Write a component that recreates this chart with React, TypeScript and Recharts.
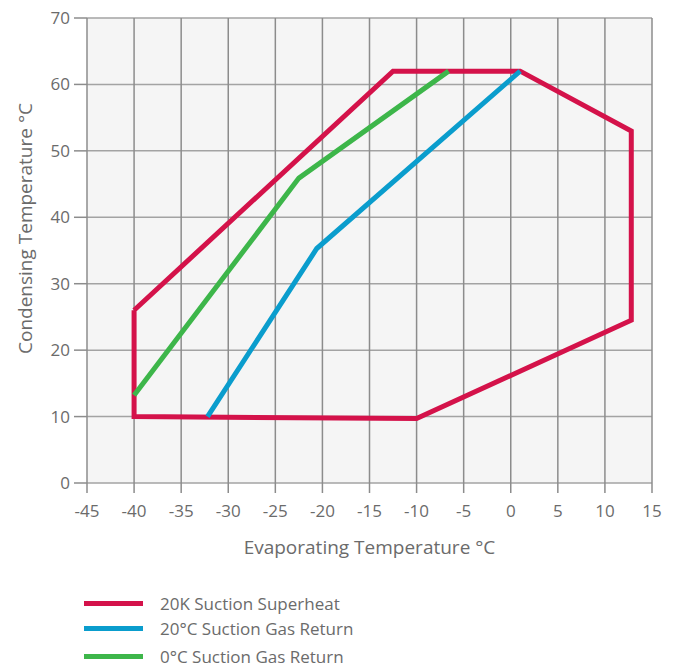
import React from 'react';
import { LineChart, Line, XAxis, YAxis, CartesianGrid, Label } from 'recharts';

const xTicks = [-45, -40, -35, -30, -25, -20, -15, -10, -5, 0, 5, 10, 15];
const yTicks = [0, 10, 20, 30, 40, 50, 60, 70];

const superheatX = [-40, -12.5, 1, 12.8, 12.8, -10, -40, -40];
const superheatY = [26, 62, 62, 53, 24.5, 9.7, 10, 26];

const gas20X = [-32.2, -20.6, 1];
const gas20Y = [10, 35.3, 62];

const gas0X = [-40, -22.5, -6.6];
const gas0Y = [13.2, 45.9, 62];

const seriesNames = ['20K Suction Superheat', '20°C Suction Gas Return', '0°C Suction Gas Return'];
const seriesColors = ['#d4124a', '#0a9dcd', '#3db64a'];

const zip = (xs: number[], ys: number[]) => xs.map((x, i) => ({ x, y: ys[i] }));

const series = [
  { name: seriesNames[0], color: seriesColors[0], data: zip(superheatX, superheatY) },
  { name: seriesNames[1], color: seriesColors[1], data: zip(gas20X, gas20Y) },
  { name: seriesNames[2], color: seriesColors[2], data: zip(gas0X, gas0Y) },
];

const FONT = '"Open Sans", "Noto Sans", sans-serif';
const TEXT = '#6b6b6b';

const legendTops = [603, 628, 656];

export default function App() {
  return (
    <div style={{ position: 'relative', width: 682, height: 668, fontFamily: FONT }}>
      <style>{'body{margin:0}'}</style>
      <LineChart
        width={682}
        height={588}
        margin={{ top: 18, right: 30, left: 37, bottom: 25 }}
      >
        <CartesianGrid fill="#f5f5f5" stroke="#a3a3a3" vertical={false} strokeWidth={1.5} />
        <CartesianGrid stroke="#8c8c8c" horizontal={false} strokeWidth={1.5} fillOpacity={0} />
        <XAxis
          type="number"
          dataKey="x"
          domain={[-45, 15]}
          ticks={xTicks}
          interval={0}
          allowDataOverflow
          axisLine={false}
          tickLine={{ stroke: '#8c8c8c', strokeWidth: 1.5 }}
          tickSize={10}
          tickMargin={12}
          height={80}
          tick={{ fill: TEXT, fontSize: 17, fontFamily: FONT }}
        >
          <Label
            value="Evaporating Temperature °C"
            position="insideBottom"
            offset={9}
            style={{ fill: TEXT, fontSize: 19, fontFamily: FONT }}
          />
        </XAxis>
        <YAxis
          type="number"
          dataKey="y"
          domain={[0, 70]}
          ticks={yTicks}
          interval={0}
          axisLine={false}
          tickLine={{ stroke: '#8c8c8c', strokeWidth: 1.5 }}
          tickSize={13}
          tickMargin={4}
          width={50}
          tick={{ fill: TEXT, fontSize: 17, fontFamily: FONT }}
        >
          <Label
            value="Condensing Temperature °C"
            position="center"
            angle={-90}
            dx={-37}
            dy={-22}
            style={{ fill: TEXT, fontSize: 19, fontFamily: FONT, textAnchor: 'middle' }}
          />
        </YAxis>
        {series.map((s) => (
          <Line
            key={s.name}
            data={s.data}
            dataKey="y"
            name={s.name}
            stroke={s.color}
            strokeWidth={5}
            dot={false}
            activeDot={false}
            isAnimationActive={false}
            strokeLinejoin="miter"
          />
        ))}
      </LineChart>
      {series.map((s, i) => (
        <div
          key={s.name}
          style={{
            position: 'absolute',
            left: 84,
            top: legendTops[i] - 12,
            height: 24,
            display: 'flex',
            alignItems: 'center',
            fontSize: 17,
            color: TEXT,
            whiteSpace: 'nowrap',
          }}
        >
          <span style={{ display: 'inline-block', width: 59, height: 5, background: s.color, marginRight: 17 }} />
          <span>{s.name}</span>
        </div>
      ))}
    </div>
  );
}
